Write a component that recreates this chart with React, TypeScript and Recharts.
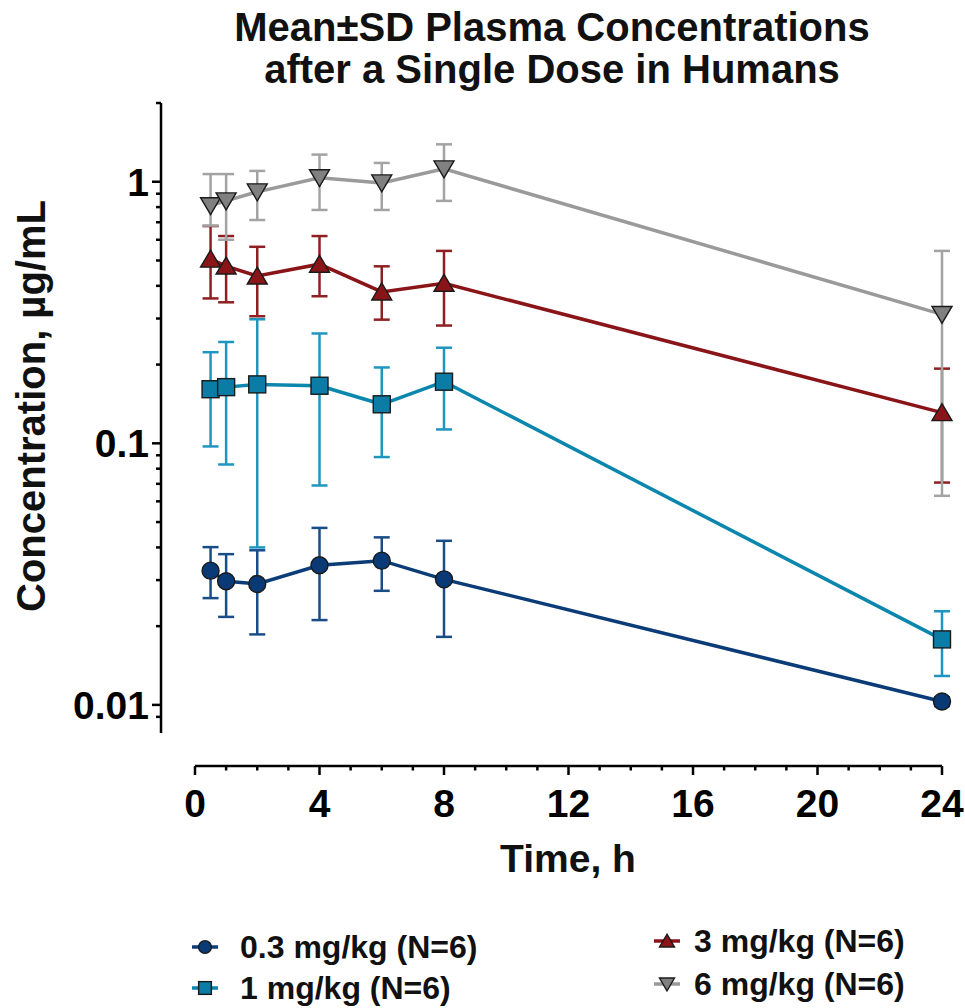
import React from 'react';
import { ComposedChart, Line, XAxis, YAxis, ErrorBar, ReferenceLine, Label } from 'recharts';

const times = [0.5, 1, 2, 4, 6, 8, 24];

const mean03 = [0.0326, 0.0297, 0.029, 0.0342, 0.0356, 0.0302, 0.0103];
const low03 = [0.0256, 0.0217, 0.0186, 0.0211, 0.0273, 0.0182, 0.0099];
const high03 = [0.0401, 0.0377, 0.039, 0.0475, 0.0437, 0.0424, 0.0107];

const mean1 = [0.161, 0.164, 0.168, 0.166, 0.141, 0.172, 0.0178];
const low1 = [0.0973, 0.083, 0.040, 0.069, 0.0886, 0.113, 0.0129];
const high1 = [0.223, 0.244, 0.298, 0.263, 0.195, 0.232, 0.0228];

const mean3 = [0.506, 0.476, 0.436, 0.484, 0.379, 0.409, 0.131];
const low3 = [0.358, 0.346, 0.306, 0.365, 0.297, 0.282, 0.0708];
const high3 = [0.677, 0.62, 0.564, 0.62, 0.475, 0.544, 0.193];

const mean6 = [0.81, 0.845, 0.915, 1.036, 0.99, 1.12, 0.311];
const low6 = [0.68, 0.6, 0.714, 0.78, 0.78, 0.845, 0.063];
const high6 = [1.07, 1.07, 1.1, 1.27, 1.18, 1.39, 0.544];

const seriesNames = ['0.3 mg/kg (N=6)', '1 mg/kg (N=6)', '3 mg/kg (N=6)', '6 mg/kg (N=6)'];

const xTicks = [0, 1, 2, 3, 4, 5, 6, 7, 8, 9, 10, 11, 12, 13, 14, 15, 16, 17, 18, 19, 20, 21, 22, 23, 24];
const xMajorTicks = [0, 4, 8, 12, 16, 20, 24];
const xTickLabels = ['0', '4', '8', '12', '16', '20', '24'];

const yTicks = [
  0.009, 0.01, 0.02, 0.03, 0.04, 0.05, 0.06, 0.07, 0.08, 0.09,
  0.1, 0.2, 0.3, 0.4, 0.5, 0.6, 0.7, 0.8, 0.9, 1, 2,
];
const yMajorTicks = [0.01, 0.1, 1];
const yTickLabels = ['0.01', '0.1', '1'];

const FONT = '"Liberation Sans", Arial, sans-serif';

function buildData(mean: number[], low: number[], high: number[]) {
  return times.map((t, i) => ({
    t,
    v: mean[i],
    err: [mean[i] - low[i], high[i] - mean[i]],
  }));
}

const data03 = buildData(mean03, low03, high03);
const data1 = buildData(mean1, low1, high1);
const data3 = buildData(mean3, low3, high3);
const data6 = buildData(mean6, low6, high6);

type Shape = 'circle' | 'square' | 'up' | 'down';

function markerEl(shape: Shape, cx: number, cy: number, fill: string, key?: any, s = 1) {
  const st = { fill, stroke: '#1a1a1a', strokeWidth: 1.4 };
  if (shape === 'circle') return <circle key={key} cx={cx} cy={cy} r={8.5 * s} {...st} />;
  if (shape === 'square')
    return <rect key={key} x={cx - 8.5 * s} y={cy - 8.5 * s} width={17 * s} height={17 * s} {...st} />;
  if (shape === 'up')
    return (
      <polygon
        key={key}
        points={`${cx},${cy - 9 * s} ${cx - 10 * s},${cy + 8 * s} ${cx + 10 * s},${cy + 8 * s}`}
        {...st}
      />
    );
  return (
    <polygon
      key={key}
      points={`${cx - 10 * s},${cy - 8 * s} ${cx + 10 * s},${cy - 8 * s} ${cx},${cy + 9 * s}`}
      {...st}
    />
  );
}

const series = [
  { name: seriesNames[0], data: data03, line: '#0b3c78', err: '#1a4d88', fill: '#0a3a76', shape: 'circle' as Shape },
  { name: seriesNames[1], data: data1, line: '#0b86ad', err: '#1e96bf', fill: '#0a7ca6', shape: 'square' as Shape },
  { name: seriesNames[2], data: data3, line: '#8a1518', err: '#8e1f22', fill: '#8a1518', shape: 'up' as Shape },
  { name: seriesNames[3], data: data6, line: '#9a9a9a', err: '#a3a3a3', fill: '#808080', shape: 'down' as Shape },
];

const Y_AXIS_SHIFT = 34;

const YTick = (props: any) => {
  const { x, y, payload } = props;
  const v = payload.value;
  const mi = yMajorTicks.indexOf(v);
  const ax = x - Y_AXIS_SHIFT;
  const len = mi >= 0 ? 9 : 5;
  return (
    <g>
      <line x1={ax - len} x2={ax} y1={y} y2={y} stroke="#000" strokeWidth={2.5} />
      {mi >= 0 && (
        <text x={ax - 12} y={y} dy="0.36em" textAnchor="end" fontFamily={FONT} fontWeight="bold" fontSize={39} fill="#000">
          {yTickLabels[mi]}
        </text>
      )}
    </g>
  );
};

const XTick = (props: any) => {
  const { x, y, payload } = props;
  const v = payload.value;
  const mi = xMajorTicks.indexOf(v);
  const len = mi >= 0 ? 9 : 4.5;
  return (
    <g>
      <line x1={x} x2={x} y1={y} y2={y + len} stroke="#000" strokeWidth={2.5} />
      {mi >= 0 && (
        <text x={x} y={y + 51} textAnchor="middle" fontFamily={FONT} fontWeight="bold" fontSize={39} fill="#000">
          {xTickLabels[mi]}
        </text>
      )}
    </g>
  );
};

export default function App() {
  return (
    <div style={{ position: 'absolute', left: 0, top: 0, width: 965, height: 1008, background: '#fff' }}>
      <div
        style={{
          position: 'absolute',
          left: 140,
          top: 6,
          width: 824,
          textAlign: 'center',
          fontFamily: FONT,
          fontWeight: 'bold',
          fontSize: 40,
          lineHeight: '42px',
          color: '#111',
        }}
      >
        Mean±SD Plasma Concentrations
        <br />
        after a Single Dose in Humans
      </div>
      <div style={{ position: 'absolute', left: 0, top: 0 }}>
        <ComposedChart width={965} height={1008} margin={{ top: 103, right: 23, bottom: 182, left: 135 }}>
          <XAxis
            dataKey="t"
            type="number"
            domain={[0, 24]}
            ticks={xTicks}
            interval={0}
            tickLine={false}
            tickSize={0}
            tickMargin={0}
            tick={<XTick />}
            axisLine={{ stroke: '#000', strokeWidth: 2.5 }}
            height={60}
            allowDuplicatedCategory={false}
          >
            <Label
              content={() => (
                <text x={568} y={872} textAnchor="middle" fontFamily={FONT} fontWeight="bold" fontSize={39} fill="#111">
                  Time, h
                </text>
              )}
            />
          </XAxis>
          <YAxis
            type="number"
            scale="log"
            domain={[0.00584, 2]}
            allowDataOverflow
            ticks={yTicks}
            interval={0}
            tickLine={false}
            tickSize={0}
            tickMargin={0}
            tick={<YTick />}
            axisLine={false}
            width={60}
          >
            <Label
              content={() => (
                <text
                  x={31}
                  y={406}
                  transform="rotate(-90, 31, 406)"
                  dy="0.36em"
                  textAnchor="middle"
                  fontFamily={FONT}
                  fontWeight="bold"
                  fontSize={40}
                  fill="#111"
                >
                  Concentration, µg/mL
                </text>
              )}
            />
          </YAxis>
          <ReferenceLine
            segment={[
              { x: -1.092, y: 0.0078 },
              { x: -1.092, y: 2 },
            ]}
            ifOverflow="visible"
            stroke="#000"
            strokeWidth={2.5}
          />
          {series.map((s) => (
            <Line
              key={s.name}
              data={s.data}
              dataKey="v"
              name={s.name}
              type="linear"
              stroke={s.line}
              strokeWidth={3.5}
              isAnimationActive={false}
              dot={(p: any) => markerEl(s.shape, p.cx, p.cy, s.fill, `${s.name}-${p.index}`)}
              activeDot={false}
            >
              <ErrorBar dataKey="err" width={8} strokeWidth={2.5} stroke={s.err} direction="y" />
            </Line>
          ))}
        </ComposedChart>
      </div>
      {series.map((s, i) => {
        const col = i < 2 ? 0 : 1;
        const row = i % 2;
        const left = col === 0 ? 190 : 652;
        const gap = col === 0 ? 20 : 12;
        const cy = col === 0 ? (row === 0 ? 947 : 988) : row === 0 ? 941 : 984;
        return (
          <div
            key={s.name}
            style={{
              position: 'absolute',
              left,
              top: cy - 20,
              height: 40,
              display: 'flex',
              alignItems: 'center',
              fontFamily: FONT,
              fontWeight: 'bold',
              fontSize: 32,
              color: '#111',
              whiteSpace: 'nowrap',
            }}
          >
            <svg width={30} height={40} style={{ marginRight: gap }}>
              <line x1={2} x2={28} y1={20} y2={20} stroke={s.line} strokeWidth={3.5} />
              {markerEl(s.shape, 15, 20, s.fill, undefined, 0.75)}
            </svg>
            <span>{s.name}</span>
          </div>
        );
      })}
    </div>
  );
}
